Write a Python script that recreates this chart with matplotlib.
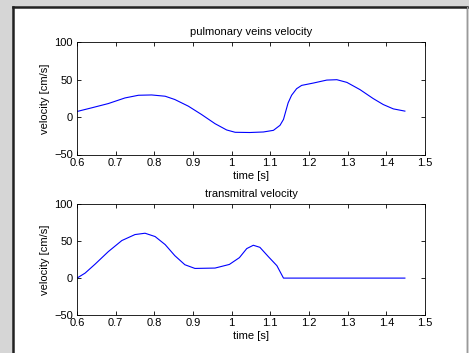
import matplotlib
matplotlib.use("Agg")
import matplotlib.pyplot as plt
from matplotlib.lines import Line2D
from matplotlib.patches import Rectangle

# pulmonary veins velocity
pv_t = [0.600, 0.638, 0.681, 0.724, 0.759, 0.793, 0.828, 0.853, 0.888, 0.922,
        0.957, 0.987, 1.009, 1.047, 1.082, 1.108, 1.125, 1.134, 1.140, 1.146,
        1.155, 1.168, 1.181, 1.211, 1.246, 1.272, 1.298, 1.332, 1.366, 1.392,
        1.418, 1.448]
pv_v = [7.5, 12.4, 18.1, 25.6, 29.2, 29.6, 27.9, 23.5, 14.6, 3.5,
        -8.8, -17.2, -20.3, -20.6, -19.9, -17.7, -11, -3.1, 8, 19,
        29.2, 38, 42.4, 45.5, 49.5, 50, 46.4, 36.7, 24.8, 16.8,
        11, 8]

# transmitral velocity
tm_t = [0.600, 0.621, 0.647, 0.681, 0.716, 0.750, 0.776, 0.802, 0.828, 0.853,
        0.879, 0.905, 0.957, 0.994, 1.020, 1.039, 1.056, 1.073, 1.095, 1.117,
        1.134, 1.448]
tm_v = [0, 6.8, 19, 35.9, 50.9, 59, 60.8, 56.3, 45.4, 30.4,
        18.1, 13.1, 13.6, 18.5, 27.7, 40, 44.5, 41.7, 29, 16.8,
        0, 0]

xticks = [0.6, 0.7, 0.8, 0.9, 1, 1.1, 1.2, 1.3, 1.4, 1.5]
xticklabels = ["0.6", "0.7", "0.8", "0.9", "1", "1.1", "1.2", "1.3", "1.4", "1.5"]
yticks = [-50, 0, 50, 100]

plt.rcParams['font.family'] = ['Liberation Sans', 'DejaVu Sans']
plt.rcParams['font.size'] = 8

fig = plt.figure(figsize=(4.69, 3.53), dpi=100, facecolor='#d6d6d6')

# white panel with dark border
fig.patches.append(Rectangle((13 / 469, -0.05), (466 - 13) / 469, 1.05 - 7 / 353,
                             transform=fig.transFigure, facecolor='white',
                             edgecolor='none', zorder=-5))
fig.lines.append(Line2D([13 / 469, 13 / 469], [0, 1 - 7 / 353], transform=fig.transFigure,
                        color='#222222', lw=1.8, zorder=-4))
fig.lines.append(Line2D([13 / 469, 467 / 469], [1 - 7 / 353, 1 - 7 / 353], transform=fig.transFigure,
                        color='#222222', lw=1.8, zorder=-4))
fig.lines.append(Line2D([467 / 469, 467 / 469], [0, 1 - 7 / 353], transform=fig.transFigure,
                        color='#9a9a9a', lw=0.8, zorder=-4))

ax1 = fig.add_axes([77 / 469, 1 - 154.5 / 353, 348 / 469, 112.2 / 353])
ax2 = fig.add_axes([77 / 469, 1 - 315 / 353, 348 / 469, 110.7 / 353])

for ax, t, v, title in [(ax1, pv_t, pv_v, "pulmonary veins velocity"),
                        (ax2, tm_t, tm_v, "transmitral velocity")]:
    ax.plot(t, v, color='#0000ff', lw=0.8)
    ax.set_xlim(0.6, 1.5)
    ax.set_ylim(-50, 100)
    ax.set_xticks(xticks)
    ax.set_xticklabels(xticklabels)
    ax.set_yticks(yticks)
    ax.tick_params(direction='in', top=True, right=True, length=3, width=0.6,
                   labelsize=8)
    ax.tick_params(axis='x', pad=2.5)
    ax.tick_params(axis='y', pad=3)
    for s in ax.spines.values():
        s.set_linewidth(0.6)
    ax.set_title(title, fontsize=8, pad=5)
    ax.set_xlabel("time [s]", fontsize=8, labelpad=2)
    ax.set_ylabel("velocity [cm/s]", fontsize=8, labelpad=3)

fig.savefig("out.png", dpi=100, facecolor=fig.get_facecolor())
